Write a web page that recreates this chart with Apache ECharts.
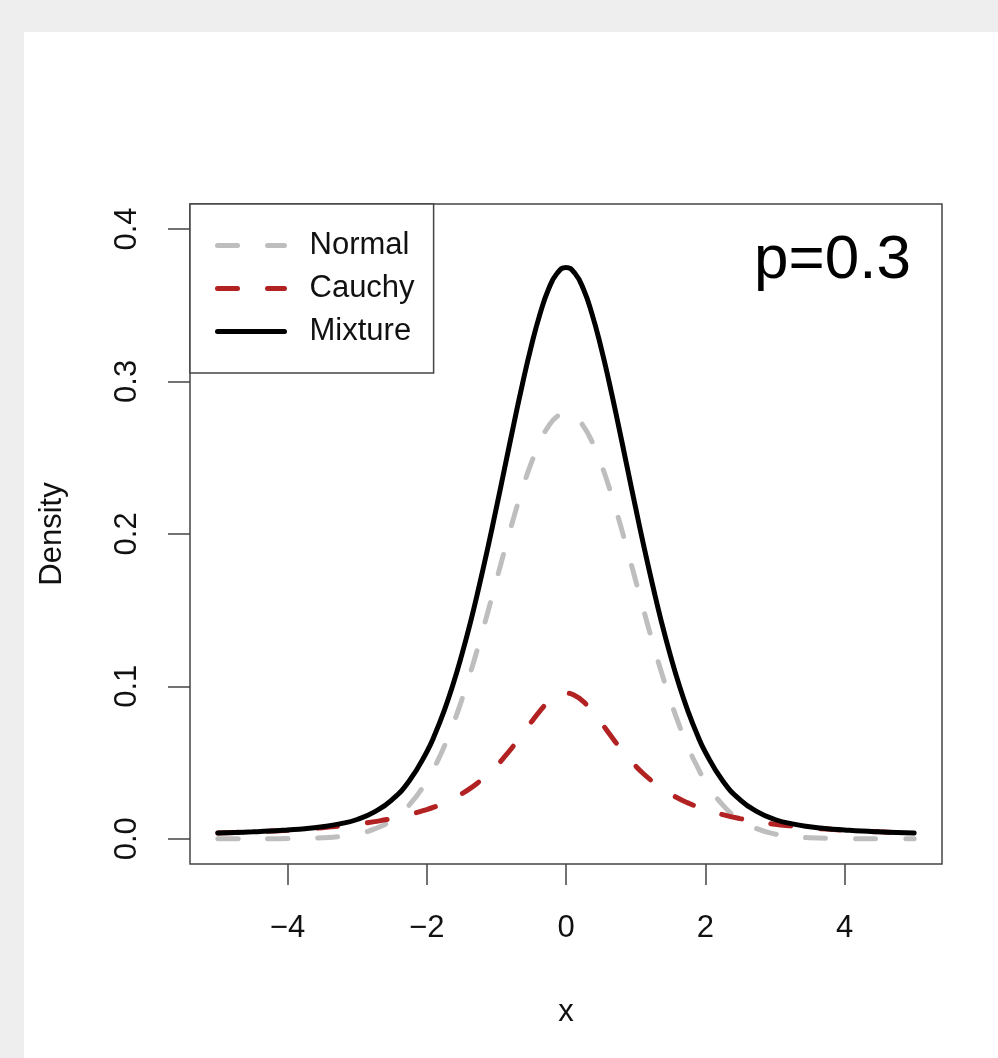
<!DOCTYPE html>
<html>
<head>
<meta charset="utf-8">
<title>Density p=0.3</title>
<script src="https://cdn.jsdelivr.net/npm/echarts@6/dist/echarts.min.js"></script>
<style>
    html, body { margin: 0; padding: 0; background: #eeeeee; }
    #panel { position: absolute; left: 24px; top: 32px; width: 974px; height: 1026px; background: #fff; }
    #chart { position: absolute; left: 0; top: 0; width: 998px; height: 1058px; }
</style>
</head>
<body>
<div id="panel"></div>
<div id="chart"></div>
<script>
// x grid of the density curves (finer in the middle)
var xValues = [-5, -4.75, -4.5, -4.25, -4, -3.75, -3.5, -3.25, -3, -2.75, -2.5, -2.25,
    -2, -1.875, -1.75, -1.625, -1.5, -1.375, -1.25, -1.125, -1, -0.875, -0.75, -0.625, -0.5, -0.375, -0.25, -0.125,
    0,
    0.125, 0.25, 0.375, 0.5, 0.625, 0.75, 0.875, 1, 1.125, 1.25, 1.375, 1.5, 1.625, 1.75, 1.875, 2,
    2.25, 2.5, 2.75, 3, 3.25, 3.5, 3.75, 4, 4.25, 4.5, 4.75, 5];

// weighted densities
var normalDensity = [0, 0, 0, 0, 0.0001, 0.0002, 0.0006, 0.0014, 0.0031, 0.0064, 0.0123, 0.0222,
    0.0378, 0.0482, 0.0604, 0.0746, 0.0907, 0.1085, 0.1279, 0.1483, 0.1694, 0.1904, 0.2108, 0.2297, 0.2464, 0.2603, 0.2707, 0.2771,
    0.2793,
    0.2771, 0.2707, 0.2603, 0.2464, 0.2297, 0.2108, 0.1904, 0.1694, 0.1483, 0.1279, 0.1085, 0.0907, 0.0746, 0.0604, 0.0482, 0.0378,
    0.0222, 0.0123, 0.0064, 0.0031, 0.0014, 0.0006, 0.0002, 0.0001, 0, 0, 0, 0];
var cauchyDensity = [0.0037, 0.0041, 0.0045, 0.0050, 0.0056, 0.0063, 0.0072, 0.0083, 0.0095, 0.0112, 0.0132, 0.0158,
    0.0191, 0.0211, 0.0235, 0.0262, 0.0294, 0.0330, 0.0373, 0.0421, 0.0477, 0.0541, 0.0611, 0.0687, 0.0764, 0.0837, 0.0899, 0.0940,
    0.0955,
    0.0940, 0.0899, 0.0837, 0.0764, 0.0687, 0.0611, 0.0541, 0.0477, 0.0421, 0.0373, 0.0330, 0.0294, 0.0262, 0.0235, 0.0211, 0.0191,
    0.0158, 0.0132, 0.0112, 0.0095, 0.0083, 0.0072, 0.0063, 0.0056, 0.0050, 0.0045, 0.0041, 0.0037];
var mixtureDensity = [0.0037, 0.0041, 0.0045, 0.0050, 0.0057, 0.0065, 0.0078, 0.0097, 0.0126, 0.0176, 0.0255, 0.0380,
    0.0569, 0.0693, 0.0839, 0.1008, 0.1201, 0.1415, 0.1652, 0.1904, 0.2171, 0.2445, 0.2719, 0.2984, 0.3228, 0.3440, 0.3606, 0.3711,
    0.3748,
    0.3711, 0.3606, 0.3440, 0.3228, 0.2984, 0.2719, 0.2445, 0.2171, 0.1904, 0.1652, 0.1415, 0.1201, 0.1008, 0.0839, 0.0693, 0.0569,
    0.0380, 0.0255, 0.0176, 0.0126, 0.0097, 0.0078, 0.0065, 0.0057, 0.0050, 0.0045, 0.0041, 0.0037];

var xTicks = [-4, -2, 0, 2, 4];
var yTicks = [0, 0.1, 0.2, 0.3, 0.4];
var seriesNames = ['Normal', 'Cauchy', 'Mixture'];

var FONT = '"Liberation Sans", Arial, sans-serif';

function pairs(ys) {
    var out = [];
    for (var i = 0; i < xValues.length; i++) {
        out.push([xValues[i], ys[i]]);
    }
    return out;
}

var char = echarts.init(document.getElementById('chart'), null, { renderer: 'canvas' });

var option = {
    animation: false,
    textStyle: { fontFamily: FONT },
    title: {
        text: 'p=0.3',
        right: 82,
        top: 225,
        textStyle: {
            fontFamily: FONT,
            fontSize: 62,
            fontWeight: 'normal',
            color: '#000'
        }
    },
    legend: {
        data: seriesNames,
        orient: 'vertical',
        left: 190,
        top: 204,
        padding: [26, 19, 26, 25],
        itemWidth: 67,
        itemHeight: 30,
        itemGap: 12,
        backgroundColor: '#fff',
        borderColor: '#444',
        borderWidth: 1.5,
        borderRadius: 0,
        // hide the circle that the line legend icon adds
        itemStyle: { opacity: 0 },
        lineStyle: { width: 5, cap: 'round' },
        textStyle: {
            fontFamily: FONT,
            fontSize: 31,
            color: '#111',
            padding: [0, 0, 0, 20]
        }
    },
    grid: {
        left: 190,
        right: 56,
        top: 204,
        bottom: 194,
        show: true,
        borderColor: '#444',
        borderWidth: 1.5,
        backgroundColor: 'transparent'
    },
    xAxis: {
        type: 'value',
        min: -5.4,
        max: 5.4,
        name: 'x',
        nameLocation: 'middle',
        nameGap: 133,
        nameTextStyle: { fontFamily: FONT, fontSize: 31, color: '#111' },
        axisLine: { show: false, onZero: false },
        splitLine: { show: false },
        axisTick: {
            show: true,
            length: 21,
            customValues: xTicks,
            lineStyle: { color: '#444', width: 1.5 }
        },
        axisLabel: {
            customValues: xTicks,
            margin: 49,
            fontFamily: FONT,
            fontSize: 31,
            color: '#111',
            formatter: function(v) {
                return v < 0 ? '\u2212' + Math.abs(v) : String(v);
            }
        }
    },
    yAxis: {
        type: 'value',
        min: -0.0166,
        max: 0.4164,
        name: 'Density',
        nameLocation: 'middle',
        nameRotate: 90,
        nameGap: 122,
        nameTextStyle: { fontFamily: FONT, fontSize: 31, color: '#111' },
        axisLine: { show: false, onZero: false },
        splitLine: { show: false },
        axisTick: {
            show: true,
            length: 22,
            customValues: yTicks,
            lineStyle: { color: '#444', width: 1.5 }
        },
        axisLabel: {
            customValues: yTicks,
            rotate: 90,
            margin: 47,
            fontFamily: FONT,
            fontSize: 31,
            color: '#111',
            formatter: function(v) {
                return v.toFixed(1);
            }
        }
    },
    series: [
        {
            name: 'Normal',
            type: 'line',
            symbol: 'none',
            smooth: true,
            color: '#bebebe',
            lineStyle: { color: '#bebebe', width: 5, type: [20, 30], cap: 'round' },
            data: pairs(normalDensity)
        },
        {
            name: 'Cauchy',
            type: 'line',
            symbol: 'none',
            smooth: true,
            color: '#b22222',
            lineStyle: { color: '#b22222', width: 5, type: [20, 30], cap: 'round' },
            data: pairs(cauchyDensity)
        },
        {
            name: 'Mixture',
            type: 'line',
            symbol: 'none',
            smooth: true,
            color: '#000',
            lineStyle: { color: '#000', width: 5, cap: 'round' },
            data: pairs(mixtureDensity)
        }
    ]
};

char.setOption(option);
</script>
</body>
</html>
